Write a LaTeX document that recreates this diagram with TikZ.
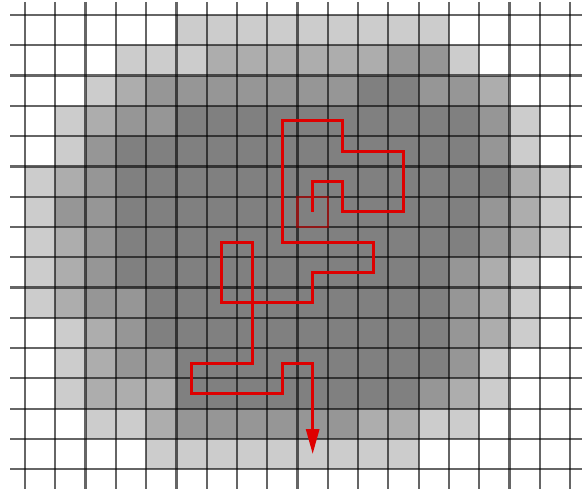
\documentclass[tikz,border=0pt]{standalone}
\usetikzlibrary{arrows.meta}

\definecolor{cell0}{gray}{1.00}
\definecolor{cell1}{gray}{0.80}
\definecolor{cell2}{gray}{0.68}
\definecolor{cell3}{gray}{0.59}
\definecolor{cell4}{gray}{0.50}
\definecolor{walkred}{RGB}{222,0,0}

\begin{document}
\begin{tikzpicture}[x=15.14pt,y=-15.14pt]
\tikzset{
  gridline/.style={draw=black,opacity=0.6,line width=1.1pt},
  cellmark/.style={draw=walkred,opacity=0.55,line width=1.1pt},
  walkpath/.style={draw=walkred,line width=1.5pt,line join=miter,-{Triangle[length=12.5pt,width=6.5pt]}}
}
\useasboundingbox (-0.8256,-0.4954) rectangle (18.395,15.786);
% shading of the cells, one list per row
\foreach \cellrow [count=\r from 0] in {
  {0,0,0,0,0,1,1,1,1,1,1,1,1,1,0,0,0,0},
  {0,0,0,1,1,1,2,2,2,2,2,2,3,3,1,0,0,0},
  {0,0,1,2,3,3,3,3,3,3,3,4,4,3,3,2,0,0},
  {0,1,2,3,3,4,4,4,4,4,4,4,4,4,4,3,1,0},
  {0,1,3,4,4,4,4,4,4,4,4,4,4,4,4,3,1,0},
  {1,2,3,4,4,4,4,4,4,4,4,4,4,4,4,4,2,1},
  {1,3,3,4,4,4,4,4,4,4,4,4,4,4,4,3,2,1},
  {1,2,3,4,4,4,4,4,4,4,4,4,4,4,4,3,2,1},
  {1,2,3,4,4,4,4,4,4,4,4,4,4,4,3,2,1,0},
  {1,2,3,3,4,4,4,4,4,4,4,4,4,4,3,2,1,0},
  {0,1,2,3,4,4,4,4,4,4,4,4,4,4,3,2,1,0},
  {0,1,2,3,3,4,4,4,4,4,4,4,4,4,3,1,0,0},
  {0,1,2,2,2,4,4,4,4,4,4,4,4,3,2,1,0,0},
  {0,0,1,1,2,3,3,3,3,3,3,2,2,1,1,0,0,0},
  {0,0,0,0,1,1,1,1,1,1,1,1,1,0,0,0,0,0}}{
  \foreach \v [count=\c from 0] in \cellrow {
    \fill[cell\v] (\c,\r) rectangle ++(1,1);
    \coordinate (c-\c-\r) at (\c+0.5,\r+0.5);
  }
}
% grid
\foreach \m in {0,...,15}
  \draw[gridline] (-0.495,\m) -- (18.395,\m);
\foreach \k in {0,...,18}
  \draw[gridline] (\k,-0.43) -- (\k,15.65);
% start cell and walk
\draw[cellmark] (9,6) rectangle (10,7);
\draw[walkpath] (c-9-6) -- (c-9-5) -- (c-10-5) -- (c-10-6) -- (c-12-6) -- (c-12-4)
  -- (c-10-4) -- (c-10-3) -- (c-8-3) -- (c-8-7) -- (c-11-7) -- (c-11-8) -- (c-9-8)
  -- (c-9-9) -- (c-6-9) -- (c-6-7) -- (c-7-7) -- (c-7-11) -- (c-5-11) -- (c-5-12)
  -- (c-8-12) -- (c-8-11) -- (c-9-11) -- (c-9-14);
\end{tikzpicture}
\end{document}
